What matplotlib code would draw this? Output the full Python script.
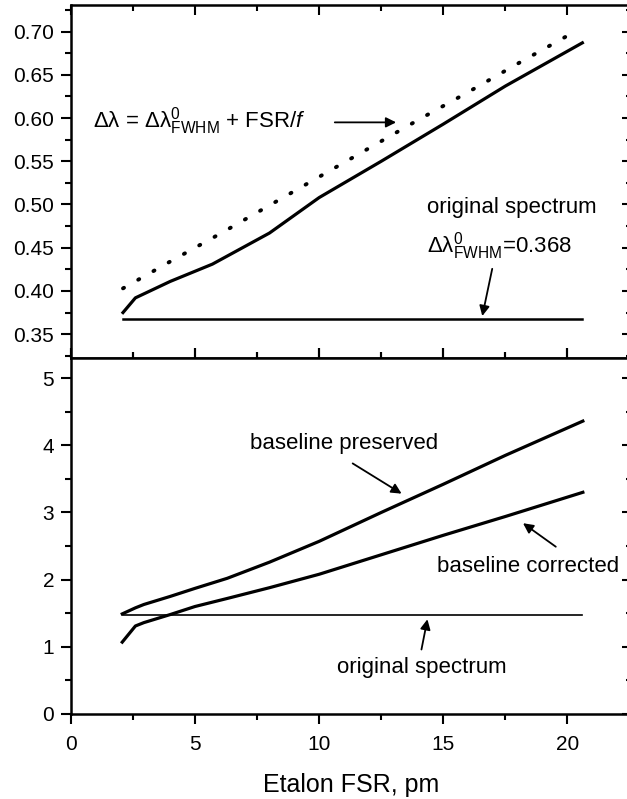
import numpy as np
import matplotlib.pyplot as plt
from matplotlib.ticker import MultipleLocator

plt.rcParams['font.family'] = ['Liberation Sans', 'DejaVu Sans']
plt.rcParams['mathtext.fontset'] = 'custom'
plt.rcParams['mathtext.rm'] = 'Liberation Sans'
plt.rcParams['mathtext.it'] = 'Liberation Sans:italic'

# top panel: FWHM (pm) vs etalon FSR
fsr_top = [2.1, 2.6, 4.0, 5.7, 8.0, 10.0, 12.5, 15.0, 17.5, 20.6]
fwhm_top = [0.375, 0.392, 0.411, 0.431, 0.467, 0.508, 0.550, 0.593, 0.637, 0.687]
fsr_est = [2.1, 4.0, 6.0, 8.0, 10.0, 12.0, 14.0, 16.0, 18.0, 20.3]
fwhm_est = [0.403, 0.434, 0.466, 0.499, 0.532, 0.565, 0.598, 0.630, 0.663, 0.700]
fsr_orig = [2.1, 20.6]
fwhm_orig = [0.368, 0.368]

# bottom panel
fsr_bot = [2.07, 2.6, 2.94, 4.0, 5.0, 6.3, 8.0, 10.0, 12.5, 15.0, 17.5, 20.62]
preserved = [1.49, 1.58, 1.63, 1.75, 1.87, 2.02, 2.26, 2.57, 3.00, 3.42, 3.85, 4.36]
corrected = [1.07, 1.31, 1.36, 1.48, 1.60, 1.72, 1.88, 2.08, 2.37, 2.66, 2.94, 3.30]
orig_bot = [1.47, 1.47]

fig = plt.figure(figsize=(6.27, 7.99), dpi=100)
ax1 = fig.add_axes([0.113, 0.552, 0.895, 0.442])
ax2 = fig.add_axes([0.113, 0.1064, 0.895, 0.4456])

ax1.plot(fsr_top, fwhm_top, 'k-', lw=2.3)
ax1.plot(fsr_est, fwhm_est, 'k', lw=2.8, linestyle=(0, (0.3, 4.2)), dash_capstyle='round')
ax1.plot(fsr_orig, fwhm_orig, 'k-', lw=1.8)

ax2.plot(fsr_bot, preserved, 'k-', lw=2.3)
ax2.plot(fsr_bot, corrected, 'k-', lw=2.3)
ax2.plot(fsr_orig, orig_bot, 'k-', lw=1.2)


def style(ax, ymaj, ymin):
    ax.set_xlim(0, 22.6)
    ax.xaxis.set_major_locator(MultipleLocator(5))
    ax.xaxis.set_minor_locator(MultipleLocator(2.5))
    ax.yaxis.set_major_locator(MultipleLocator(ymaj))
    ax.yaxis.set_minor_locator(MultipleLocator(ymin))
    for s in ax.spines.values():
        s.set_linewidth(1.8)
    ax.tick_params(which='both', width=1.5, labelsize=15)
    ax.tick_params(which='major', length=7)
    ax.tick_params(which='minor', length=4)
    ax.tick_params(axis='y', which='both', direction='out', pad=5)
    ax.tick_params(axis='x', which='both', top=True)
    # right-hand ticks point inward
    sec = ax.secondary_yaxis('right')
    sec.yaxis.set_major_locator(MultipleLocator(ymaj))
    sec.yaxis.set_minor_locator(MultipleLocator(ymin))
    sec.tick_params(which='both', direction='in', width=1.5, labelright=False)
    sec.tick_params(which='major', length=7)
    sec.tick_params(which='minor', length=4)


style(ax1, 0.05, 0.025)
ax1.set_ylim(0.3225, 0.731)
ax1.yaxis.set_major_formatter(plt.FormatStrFormatter('%.2f'))
ax1.tick_params(axis='x', which='both', direction='in', labelbottom=False)

style(ax2, 1, 0.5)
ax2.set_ylim(0, 5.3)
ax2.tick_params(axis='x', which='both', direction='out', pad=8)
ax2.set_xlabel('Etalon FSR, pm', fontsize=18, labelpad=14)

arr = dict(arrowstyle='-|>', color='k', lw=1.3, mutation_scale=15, shrinkA=0, shrinkB=0)
fs = 16

ax1.annotate('', xy=(13.1, 0.595), xytext=(10.63, 0.595), arrowprops=arr)
ax1.text(0.88, 0.597, '\u0394\u03bb = \u0394\u03bb$^{0}_{\\rm FWHM}$ + FSR/$f$',
         fontsize=fs, va='center')
ax1.text(14.36, 0.4966, 'original spectrum', fontsize=fs, va='center')
ax1.text(14.36, 0.4525, '\u0394\u03bb$^{0}_{\\rm FWHM}$=0.368', fontsize=fs, va='center')
ax1.annotate('', xy=(16.57, 0.371), xytext=(16.97, 0.4256), arrowprops=arr)

ax2.text(7.22, 4.03, 'baseline preserved', fontsize=fs, va='center')
ax2.annotate('', xy=(13.32, 3.28), xytext=(11.35, 3.73), arrowprops=arr)
ax2.text(14.76, 2.2, 'baseline corrected', fontsize=fs, va='center')
ax2.annotate('', xy=(18.21, 2.84), xytext=(19.53, 2.49), arrowprops=arr)
ax2.text(10.71, 0.69, 'original spectrum', fontsize=fs, va='center')
ax2.annotate('', xy=(14.36, 1.41), xytext=(14.12, 0.96), arrowprops=arr)

fig.savefig('out.png', dpi=100)
